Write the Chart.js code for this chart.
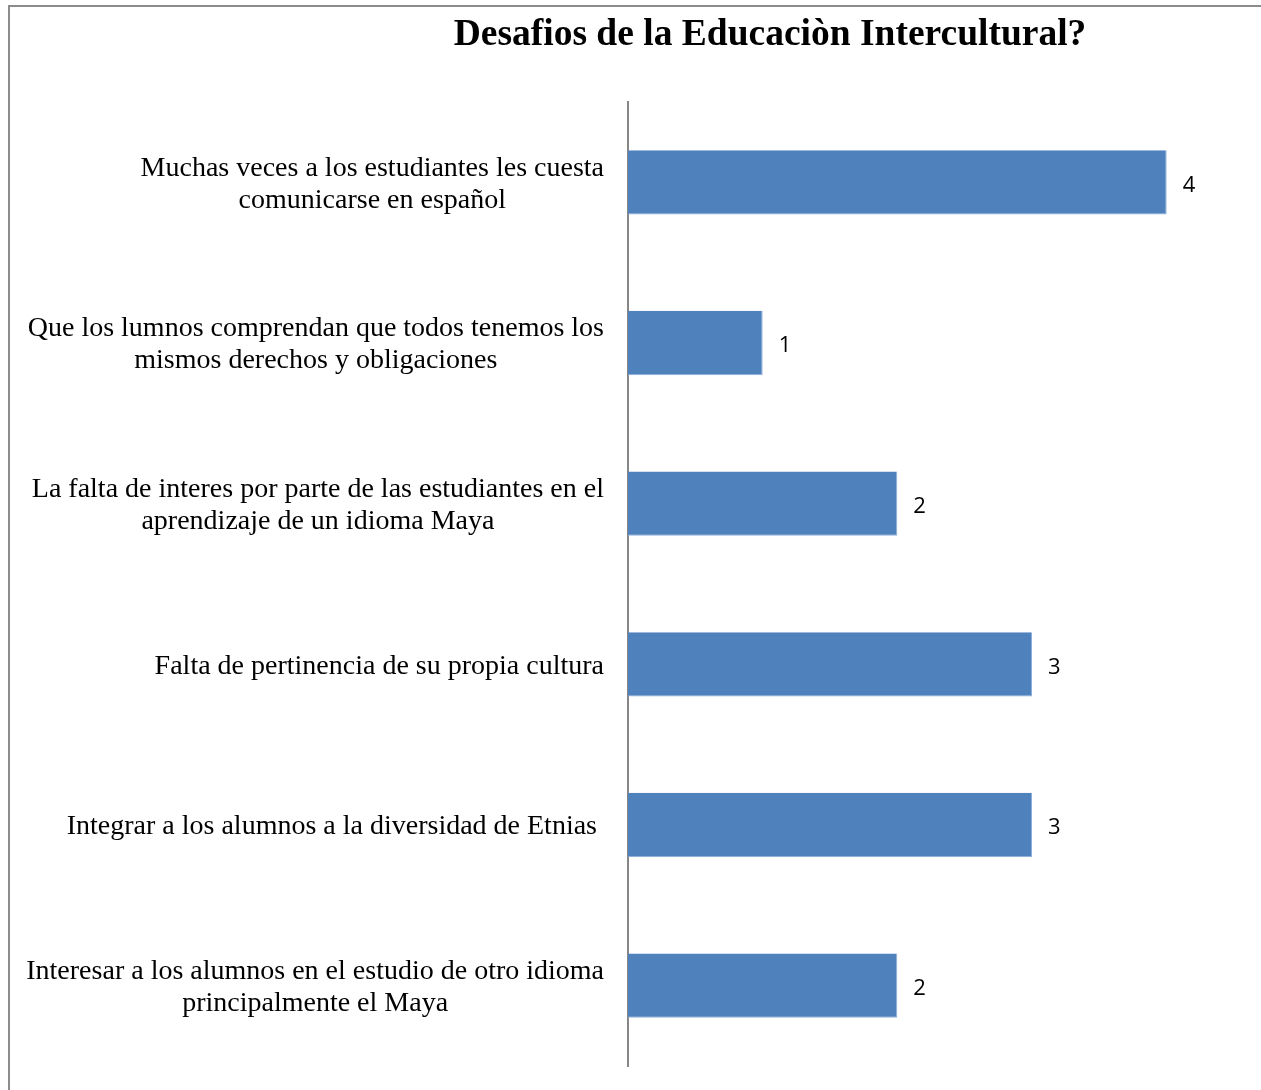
<!DOCTYPE html>
<html>
<head>
<meta charset="utf-8">
<script src="https://cdn.jsdelivr.net/npm/chart.js@4.4.1/dist/chart.umd.min.js"></script>
<style>
  html, body { margin: 0; padding: 0; background: #fff; }
  #wrap { position: relative; width: 1261px; height: 1090px; overflow: hidden; }
  #frame { position: absolute; left: 8px; top: 5px; width: 1300px; height: 1200px;
           border-top: 2px solid #8c8c8c; border-left: 2px solid #8c8c8c; }
  canvas { position: absolute; left: 0; top: 0; }
</style>
</head>
<body>
<div id="wrap">
  <div id="frame"></div>
  <canvas id="chart" width="1261" height="1090"></canvas>
</div>
<script>
const chartTitle = "Desafios de la Educaciòn Intercultural?";
const categories = [
  ["Muchas veces a los estudiantes les cuesta", "comunicarse en español"],
  ["Que los lumnos comprendan que todos tenemos los", "mismos derechos y obligaciones"],
  ["La falta de interes por parte de las estudiantes en el", "aprendizaje de un idioma Maya"],
  ["Falta de pertinencia de su propia cultura"],
  ["Integrar a los alumnos a la diversidad de Etnias "],
  ["Interesar a los alumnos en el estudio de otro idioma", "principalmente el Maya"],
];
const values = [4, 1, 2, 3, 3, 2];

const palette = {
  bar: "#4f81bd",
  barEdge: "#8fb0da",
  axis: "#868686",
  text: "#000000",
};

/* etiquetas de categoría centradas por bloque, alineadas a la derecha del eje */
const labelsPlugin = {
  id: "labelsPlugin",
  afterDraw(chart) {
    const ctx = chart.ctx;
    const y = chart.scales.y;
    const area = chart.chartArea;
    ctx.save();
    ctx.fillStyle = palette.text;
    ctx.textBaseline = "middle";

    // título
    ctx.font = "bold 37.5px 'Liberation Serif', 'Times New Roman', serif";
    ctx.textAlign = "center";
    ctx.fillText(chartTitle, 770, 35);

    // categorías
    ctx.font = "28px 'Liberation Serif', 'Times New Roman', serif";
    const lineH = 32;
    const rightEdge = area.left - 24;
    categories.forEach((lines, i) => {
      const cy = y.getPixelForTick(i) + 2;
      const widest = Math.max(...lines.map((l) => ctx.measureText(l).width));
      const cx = rightEdge - widest / 2;
      const y0 = cy - ((lines.length - 1) * lineH) / 2;
      lines.forEach((l, j) => ctx.fillText(l, cx, y0 + j * lineH));
    });

    // valores
    ctx.font = "22px 'Open Sans', 'Liberation Sans', sans-serif";
    ctx.textAlign = "left";
    const meta = chart.getDatasetMeta(0);
    meta.data.forEach((bar, i) => {
      ctx.fillText(String(values[i]), bar.x + 16, bar.y + 3);
    });
    ctx.restore();
  },
};

new Chart(document.getElementById("chart"), {
  type: "bar",
  data: {
    labels: categories,
    datasets: [{
      data: values,
      backgroundColor: palette.bar,
      borderColor: palette.barEdge,
      borderWidth: { top: 0, right: 1, bottom: 1, left: 0 },
      borderSkipped: "left",
      categoryPercentage: 1,
      barPercentage: 0.4,
    }],
  },
  options: {
    indexAxis: "y",
    responsive: false,
    animation: false,
    devicePixelRatio: 1,
    layout: { padding: { left: 628, right: 27, top: 102, bottom: 24 } },
    plugins: { legend: { display: false }, tooltip: { enabled: false }, title: { display: false } },
    scales: {
      x: { min: 0, max: 4.5, display: false },
      y: {
        display: true,
        ticks: { display: false },
        grid: { display: false, drawTicks: false },
        border: { display: true, color: palette.axis, width: 2 },
      },
    },
  },
  plugins: [labelsPlugin],
});
</script>
</body>
</html>
